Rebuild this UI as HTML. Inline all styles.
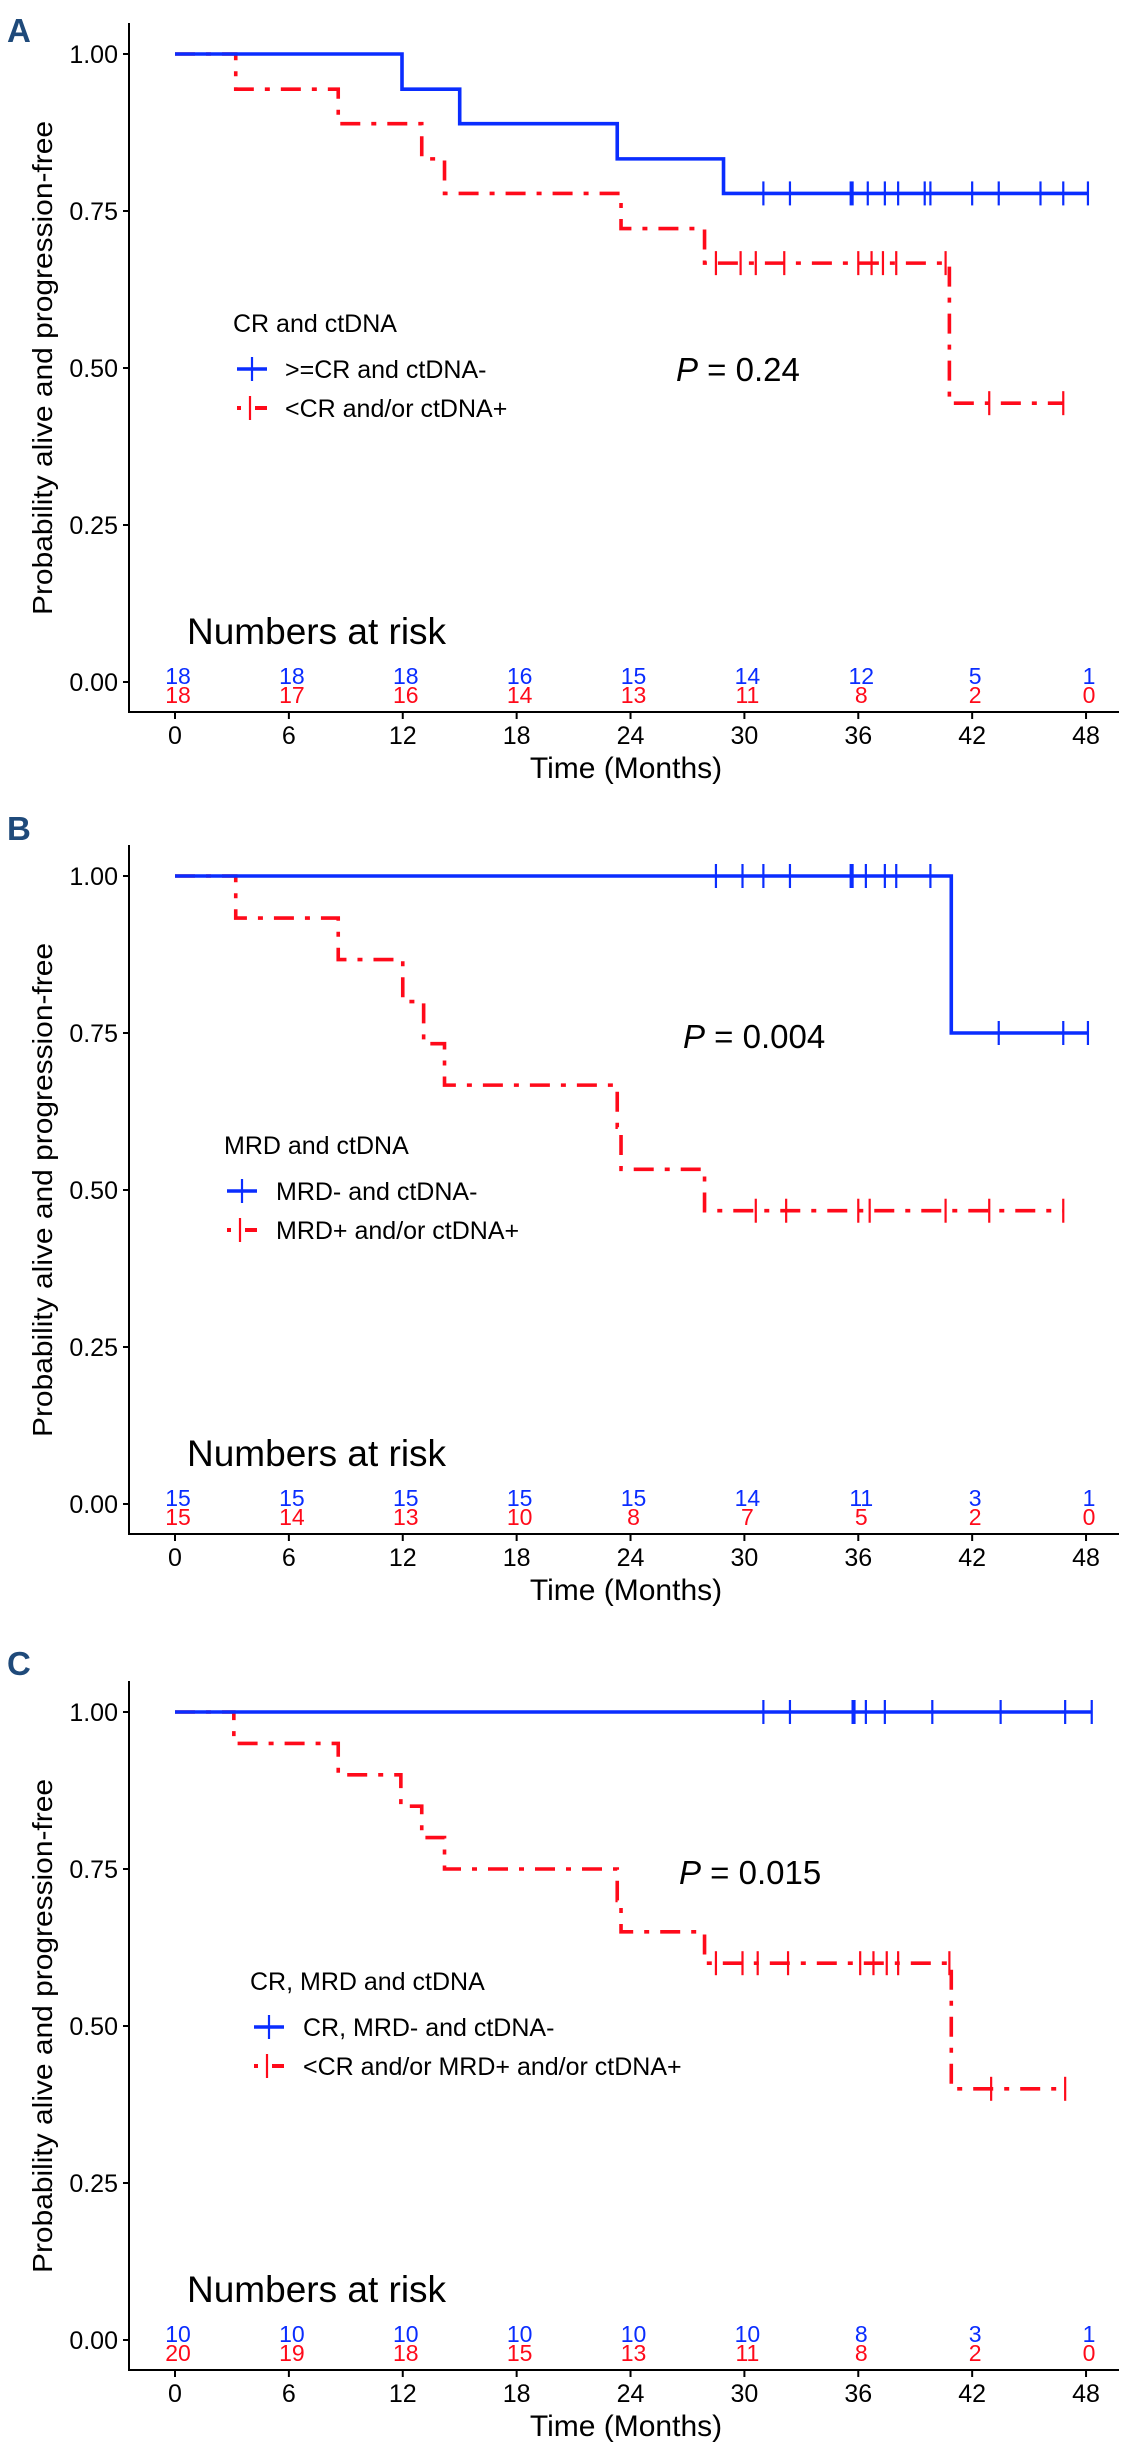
<!DOCTYPE html>
<html><head><meta charset="utf-8">
<style>
html,body{margin:0;padding:0;background:#fff;}
svg{display:block;font-family:"Liberation Sans",Arial,sans-serif;}
</style></head>
<body>
<svg id="fig" width="1132" height="2457" viewBox="0 0 1132 2457" xmlns="http://www.w3.org/2000/svg"></svg>
<script>
// ---------- data ----------
const xTicks = [0, 6, 12, 18, 24, 30, 36, 42, 48];
const yTicks = [0, 0.25, 0.5, 0.75, 1];
const yTickLabels = ["0.00", "0.25", "0.50", "0.75", "1.00"];

// Panel A
const aBlueEventT = [11.96, 15.0, 23.3, 28.9];
const aBlueEventS = [0.944, 0.889, 0.833, 0.778];
const aBlueCensT = [31.0, 32.4, 35.6, 35.7, 36.5, 37.4, 38.1, 39.5, 39.8, 42.0, 43.4, 45.6, 46.8];
const aBlueEnd = 48.1;
const aRedEventT = [3.2, 8.6, 13.0, 14.2, 23.5, 27.9, 40.8];
const aRedEventS = [0.944, 0.889, 0.833, 0.778, 0.722, 0.667, 0.444];
const aRedCensT = [28.5, 29.8, 30.6, 32.1, 36.0, 36.7, 37.3, 38.0, 40.6, 42.9];
const aRedEnd = 46.8;
const aRiskBlue = [18, 18, 18, 16, 15, 14, 12, 5, 1];
const aRiskRed = [18, 17, 16, 14, 13, 11, 8, 2, 0];

// Panel B
const bBlueEventT = [40.9];
const bBlueEventS = [0.75];
const bBlueCensT = [28.5, 29.9, 31.0, 32.4, 35.6, 35.7, 36.4, 37.4, 38.0, 39.8, 43.4, 46.8];
const bBlueEnd = 48.1;
const bRedEventT = [3.2, 8.6, 12.0, 13.1, 14.2, 23.3, 23.5, 27.9];
const bRedEventS = [0.933, 0.867, 0.80, 0.733, 0.667, 0.60, 0.533, 0.467];
const bRedCensT = [30.6, 32.2, 36.0, 36.6, 40.6, 42.9];
const bRedEnd = 46.8;
const bRiskBlue = [15, 15, 15, 15, 15, 14, 11, 3, 1];
const bRiskRed = [15, 14, 13, 10, 8, 7, 5, 2, 0];

// Panel C
const cBlueEventT = [];
const cBlueEventS = [];
const cBlueCensT = [31.0, 32.4, 35.7, 35.8, 36.4, 37.4, 39.9, 43.5, 46.9];
const cBlueEnd = 48.3;
const cRedEventT = [3.1, 8.6, 11.9, 13.0, 14.2, 23.3, 23.5, 27.9, 40.9];
const cRedEventS = [0.95, 0.90, 0.85, 0.80, 0.75, 0.70, 0.65, 0.60, 0.40];
const cRedCensT = [28.5, 29.9, 30.7, 32.3, 36.1, 36.8, 37.5, 38.1, 40.8, 43.0];
const cRedEnd = 46.9;
const cRiskBlue = [10, 10, 10, 10, 10, 10, 8, 3, 1];
const cRiskRed = [20, 19, 18, 15, 13, 11, 8, 2, 0];

// ---------- drawing ----------
const NS = "http://www.w3.org/2000/svg";
const svg = document.getElementById("fig");
const BLUE = "#0a2dff", RED = "#ff0a1a";
const X0 = 175, PXM = 18.98, YH = 628, AXX = 129;
function xS(t){ return X0 + t * PXM; }

function mk(tag, attrs, parent, text){
  const e = document.createElementNS(NS, tag);
  for (const k in attrs) e.setAttribute(k, attrs[k]);
  if (text !== undefined) e.textContent = text;
  (parent || svg).appendChild(e);
  return e;
}

function survAt(evT, evS, t){
  let s = 1;
  for (let i = 0; i < evT.length; i++) if (evT[i] <= t) s = evS[i];
  return s;
}

function panel(cfg){
  const top = cfg.top;
  const yS = v => top + (1 - v) * YH;
  const g = mk("g", {});
  
  

  const lt = mk("text", {x: 7, y: cfg.letterY, "font-size": 33, "font-weight": "bold", fill: "#1f4a7a"}, g, cfg.letter);
  
  

  const ya = mk("line", {x1: AXX, y1: top - 31, x2: AXX, y2: top + 659, stroke: "#000", "stroke-width": 2}, g);
  
  
  const xa = mk("line", {x1: AXX - 1, y1: top + 658, x2: 1119, y2: top + 658, stroke: "#000", "stroke-width": 2}, g);
  
  

  yTicks.forEach((v, i) => {
    const y = yS(v);
    const tk = mk("line", {x1: AXX - 6, y1: y, x2: AXX, y2: y, stroke: "#000", "stroke-width": 2}, g);
    
    
    const tl = mk("text", {x: 118, y: y + 9, "font-size": 25, "text-anchor": "end", fill: "#000"}, g, yTickLabels[i]);
    
    
  });
  xTicks.forEach(t => {
    const x = xS(t);
    const tk = mk("line", {x1: x, y1: top + 658, x2: x, y2: top + 665, stroke: "#000", "stroke-width": 2}, g);
    
    
    const tl = mk("text", {x: x, y: top + 690, "font-size": 25, "text-anchor": "middle", fill: "#000"}, g, String(t));
    
    
  });
  const xt = mk("text", {x: 626, y: top + 724, "font-size": 30, "text-anchor": "middle", fill: "#000"}, g, "Time (Months)");
  
  
  const cy = top + 314;
  const yt = mk("text", {x: 52, y: cy, "font-size": 28, "text-anchor": "middle", fill: "#000",
    transform: "rotate(-90 52 " + cy + ")", textLength: 494, lengthAdjust: "spacingAndGlyphs"}, g, "Probability alive and progression-free");
  
  

  function curve(evT, evS, end, color, dashed, name){
    let d = "M" + xS(0) + " " + yS(1);
    for (let i = 0; i < evT.length; i++) d += " H" + xS(evT[i]) + " V" + yS(evS[i]);
    d += " H" + xS(end);
    const p = mk("path", {d: d, fill: "none", stroke: color, "stroke-width": 3.6,
      "stroke-dasharray": dashed ? "20 11 5 11" : "none"}, g);
    
    
  }
  function cens(ts, evT, evS, end, color, name){
    ts.concat([end]).forEach(t => {
      const x = xS(t), y = yS(survAt(evT, evS, t));
      const c = mk("line", {x1: x, y1: y - 12, x2: x, y2: y + 12, stroke: color, "stroke-width": 2.2}, g);
      
      
    });
  }
  curve(cfg.redT, cfg.redS, cfg.redEnd, RED, true, 'red-survival-curve');
  curve(cfg.blueT, cfg.blueS, cfg.blueEnd, BLUE, false, 'blue-survival-curve');
  cens(cfg.redC, cfg.redT, cfg.redS, cfg.redEnd, RED, 'red-censor-mark');
  cens(cfg.blueC, cfg.blueT, cfg.blueS, cfg.blueEnd, BLUE, 'blue-censor-mark');

  const L = cfg.leg;
  const lgt = mk("text", {x: L.x, y: top + 278, "font-size": 25, fill: "#000"}, g, cfg.legTitle);
  
  
  const y1 = top + 315, y2 = top + 354;
  const lb = mk("g", {}, g);
  
  
  mk("line", {x1: L.sx, y1: y1, x2: L.sx + 30, y2: y1, stroke: BLUE, "stroke-width": 3.6}, lb);
  mk("line", {x1: L.sx + 15, y1: y1 - 12, x2: L.sx + 15, y2: y1 + 12, stroke: BLUE, "stroke-width": 2.2}, lb);
  mk("text", {x: L.tx, y: y1 + 9, "font-size": 25, fill: "#000"}, lb, cfg.legBlue);
  const lr = mk("g", {}, g);
  
  
  mk("rect", {x: L.sx, y: y2 - 2, width: 4, height: 4, fill: RED}, lr);
  mk("rect", {x: L.sx + 18, y: y2 - 2, width: 12, height: 4, fill: RED}, lr);
  mk("line", {x1: L.sx + 13, y1: y2 - 12, x2: L.sx + 13, y2: y2 + 12, stroke: RED, "stroke-width": 2.2}, lr);
  mk("text", {x: L.tx, y: y2 + 9, "font-size": 25, fill: "#000"}, lr, cfg.legRed);

  const pv = mk("text", {x: cfg.px, y: top + cfg.py + 12, "font-size": 33, fill: "#000"}, g);
  
  
  mk("tspan", {"font-style": "italic"}, pv, "P");
  mk("tspan", {}, pv, " = " + cfg.p);

  const nr = mk("text", {x: 187, y: top + 590, "font-size": 37, fill: "#000"}, g, "Numbers at risk");
  
  
  xTicks.forEach((t, i) => {
    const b = mk("text", {x: xS(t) + 3, y: top + 630, "font-size": 23, "text-anchor": "middle", fill: BLUE}, g, String(cfg.riskB[i]));
    
    
    const r = mk("text", {x: xS(t) + 3, y: top + 649, "font-size": 23, "text-anchor": "middle", fill: RED}, g, String(cfg.riskR[i]));
    
    
  });
}

panel({letter: "A", letterY: 42, top: 54,
  blueT: aBlueEventT, blueS: aBlueEventS, blueC: aBlueCensT, blueEnd: aBlueEnd,
  redT: aRedEventT, redS: aRedEventS, redC: aRedCensT, redEnd: aRedEnd,
  riskB: aRiskBlue, riskR: aRiskRed,
  leg: {x: 233, sx: 237, tx: 285}, legTitle: "CR and ctDNA",
  legBlue: ">=CR and ctDNA-", legRed: "<CR and/or ctDNA+",
  px: 676, py: 315, p: "0.24"});
panel({letter: "B", letterY: 840, top: 876,
  blueT: bBlueEventT, blueS: bBlueEventS, blueC: bBlueCensT, blueEnd: bBlueEnd,
  redT: bRedEventT, redS: bRedEventS, redC: bRedCensT, redEnd: bRedEnd,
  riskB: bRiskBlue, riskR: bRiskRed,
  leg: {x: 224, sx: 227, tx: 276}, legTitle: "MRD and ctDNA",
  legBlue: "MRD- and ctDNA-", legRed: "MRD+ and/or ctDNA+",
  px: 683, py: 160, p: "0.004"});
panel({letter: "C", letterY: 1675, top: 1712,
  blueT: cBlueEventT, blueS: cBlueEventS, blueC: cBlueCensT, blueEnd: cBlueEnd,
  redT: cRedEventT, redS: cRedEventS, redC: cRedCensT, redEnd: cRedEnd,
  riskB: cRiskBlue, riskR: cRiskRed,
  leg: {x: 250, sx: 254, tx: 303}, legTitle: "CR, MRD and ctDNA",
  legBlue: "CR, MRD- and ctDNA-", legRed: "<CR and/or MRD+ and/or ctDNA+",
  px: 679, py: 160, p: "0.015"});
</script>
</body></html>
